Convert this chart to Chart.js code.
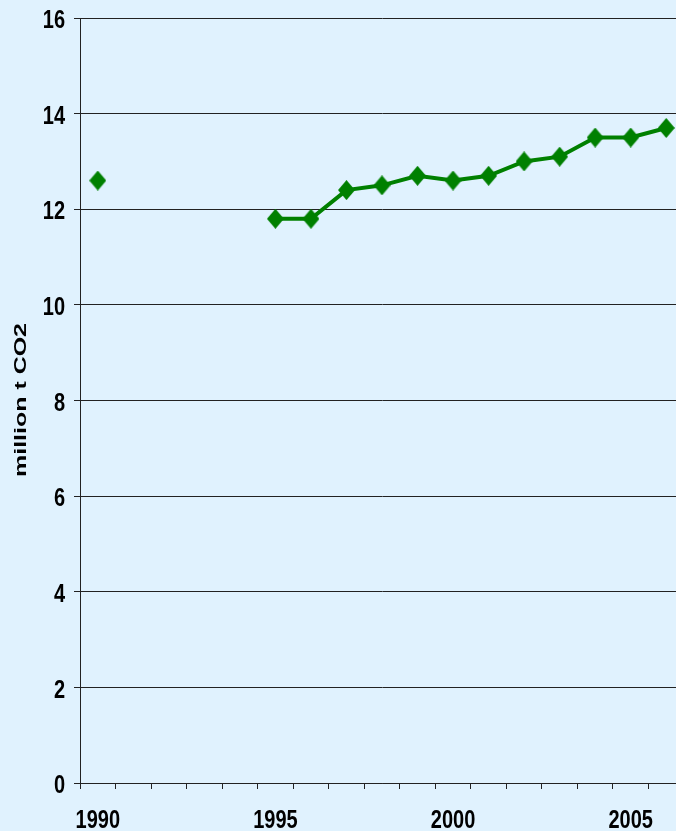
<!DOCTYPE html>
<html>
<head>
<meta charset="utf-8">
<script src="https://cdn.jsdelivr.net/npm/chart.js@4.4.0/dist/chart.umd.min.js"></script>
<style>
  html, body { margin: 0; padding: 0; background: #E0F2FE; overflow: hidden; width: 676px; height: 831px; }
  #wrap { position: absolute; left: 0; top: 0; width: 700px; height: 831px; }
</style>
</head>
<body>
<div id="wrap"><canvas id="chart" width="700" height="831"></canvas></div>
<script>
// Years on the category axis
const years = ['1990', '1991', '1992', '1993', '1994', '1995', '1996', '1997', '1998',
               '1999', '2000', '2001', '2002', '2003', '2004', '2005', '2006'];
// Emissions, million t CO2 (no figures for 1991-1994)
const emissions = [12.6, null, null, null, null, 11.8, 11.8, 12.4, 12.5,
                   12.7, 12.6, 12.7, 13.0, 13.1, 13.5, 13.5, 13.7];
// Years that carry a label under the axis
const labelledYears = ['1990', '1995', '2000', '2005'];
// Value axis range and step
const yMin = 0, yMax = 16, yStep = 2;
const axisTitle = 'million t CO2';

const BG = '#E0F2FE';
const GREEN = '#008000';
const INK = '#000000';
const GRID = '#222222';
const FONT = "'Liberation Sans', Arial, sans-serif";
const LABEL_PX = 20;      // tick label size
const LABEL_TALL = 1.27;  // tick labels are drawn taller than wide

// Diamond marker, slightly taller than wide
function makeDiamond(w, h, color) {
  const c = document.createElement('canvas');
  c.width = w; c.height = h;
  const g = c.getContext('2d');
  g.fillStyle = color;
  g.beginPath();
  g.moveTo(w / 2, 0);
  g.lineTo(w, h / 2);
  g.lineTo(w / 2, h);
  g.lineTo(0, h / 2);
  g.closePath();
  g.fill();
  return c;
}
const diamond = makeDiamond(17, 20, GREEN);

const background = {
  id: 'background',
  beforeDraw(chart) {
    const ctx = chart.ctx;
    ctx.save();
    ctx.fillStyle = BG;
    ctx.fillRect(0, 0, chart.width, chart.height);
    ctx.restore();
  }
};

// Draws a condensed-looking label: normal width, stretched height
function tallText(ctx, text, x, yCenter, align) {
  ctx.save();
  ctx.translate(x, yCenter);
  ctx.scale(1, LABEL_TALL);
  ctx.font = 'bold ' + LABEL_PX + 'px ' + FONT;
  ctx.fillStyle = INK;
  ctx.textAlign = align;
  ctx.textBaseline = 'alphabetic';
  ctx.fillText(text, 0, 0.36 * LABEL_PX);
  ctx.restore();
}

// Tick labels for both axes, placed from the scales' own pixels
const tickLabels = {
  id: 'tickLabels',
  afterDraw(chart) {
    const ctx = chart.ctx;
    const ys = chart.scales.y;
    ys.ticks.forEach(t => {
      tallText(ctx, String(t.value), ys.right - 15, ys.getPixelForValue(t.value) + 1, 'right');
    });
    const xs = chart.scales.x;
    years.forEach((yr, i) => {
      if (labelledYears.includes(yr)) {
        tallText(ctx, yr, xs.getPixelForValue(i), 819, 'center');
      }
    });
  }
};

// Rotated, elongated value-axis title
const yTitle = {
  id: 'yTitle',
  afterDraw(chart) {
    const ctx = chart.ctx;
    ctx.save();
    ctx.translate(21, 400);
    ctx.rotate(-Math.PI / 2);
    ctx.font = 'bold 17px ' + FONT;
    const w = ctx.measureText(axisTitle).width;
    ctx.scale(154 / w, 1);
    ctx.fillStyle = INK;
    ctx.textAlign = 'center';
    ctx.textBaseline = 'middle';
    ctx.fillText(axisTitle, 0, 0);
    ctx.restore();
  }
};

new Chart(document.getElementById('chart'), {
  type: 'line',
  data: {
    labels: years,
    datasets: [{
      data: emissions,
      borderColor: GREEN,
      backgroundColor: GREEN,
      borderWidth: 4,
      tension: 0,
      spanGaps: false,
      pointStyle: diamond,
      pointRadius: 9,
      pointHoverRadius: 9
    }]
  },
  options: {
    responsive: false,
    animation: false,
    events: [],
    layout: { padding: { top: 18, right: 16, bottom: 0, left: 0 } },
    plugins: { legend: { display: false }, tooltip: { enabled: false } },
    scales: {
      x: {
        type: 'category',
        offset: true,
        grid: { offset: true, drawOnChartArea: false, drawTicks: true, tickLength: 6, color: GRID, lineWidth: 1 },
        border: { display: true, color: GRID, width: 1 },
        ticks: { display: false, autoSkip: false },
        afterFit(scale) { scale.height = 48; }
      },
      y: {
        min: yMin, max: yMax,
        grid: { drawTicks: true, tickLength: 6, color: GRID, lineWidth: 1 },
        border: { display: true, color: GRID, width: 1 },
        ticks: { display: false, stepSize: yStep },
        afterFit(scale) { scale.width = 80; }
      }
    }
  },
  plugins: [background, tickLabels, yTitle]
});
</script>
</body>
</html>
